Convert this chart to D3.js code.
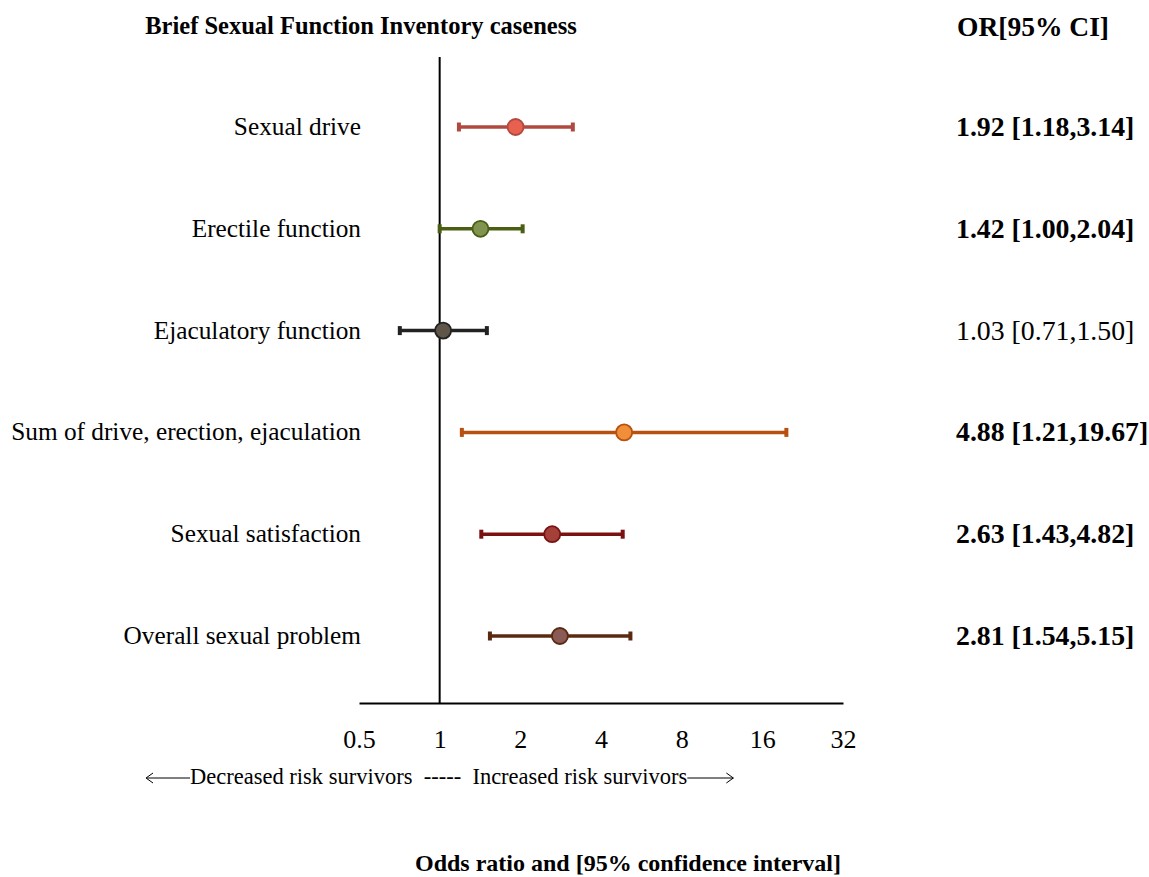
<!DOCTYPE html>
<html>
<head>
<meta charset="utf-8">
<script src="https://cdn.jsdelivr.net/npm/d3@7"></script>
<style>
  body { margin: 0; background: #fff; }
  text { font-family: "Liberation Serif", "Times New Roman", serif; fill: #000; }
</style>
</head>
<body>
<svg id="chart" width="1149" height="877" viewBox="0 0 1149 877"></svg>
<script>
// data
const labels = ["Sexual drive", "Erectile function", "Ejaculatory function",
                "Sum of drive, erection, ejaculation", "Sexual satisfaction", "Overall sexual problem"]
const oddsRatio = [1.92, 1.42, 1.03, 4.88, 2.63, 2.81]
const ciLow = [1.18, 1.00, 0.71, 1.21, 1.43, 1.54]
const ciHigh = [3.14, 2.04, 1.50, 19.67, 4.82, 5.15]
const significant = [true, true, false, true, true, true]
const lineColors = ["#b04a40", "#4a5e14", "#222222", "#b8500f", "#7a1212", "#5a2a10"]
const dotColors = ["#e8604f", "#80934f", "#5f5549", "#f08e3a", "#a3403a", "#8a5a56"]
const tickValues = [0.5, 1, 2, 4, 8, 16, 32]

const rows = labels.map((l, i) => ({
    label: l, or: oddsRatio[i], lo: ciLow[i], hi: ciHigh[i],
    bold: significant[i], line: lineColors[i], dot: dotColors[i]
}))

const svg = d3.select("#chart")

const x = d3.scaleLog().base(2)
    .domain([0.5, 32])
    .range([359, 843])

const y = d3.scalePoint()
    .domain(labels)
    .range([127, 636])

const axisY = 703

// titles
svg.append("text")
    .attr("x", 361).attr("y", 34)
    .attr("text-anchor", "middle")
    .style("font-size", "24.5px").style("font-weight", "bold")
    .text("Brief Sexual Function Inventory caseness")

svg.append("text")
    .attr("x", 957).attr("y", 36)
    .style("font-size", "27.5px").style("font-weight", "bold")
    .text("OR[95% CI]")

// reference line at OR = 1
svg.append("line")
    .attr("x1", x(1)).attr("x2", x(1))
    .attr("y1", 57).attr("y2", axisY)
    .attr("stroke", "#000").attr("stroke-width", 2)

// x axis without ticks
const axis = svg.append("g")
    .attr("transform", `translate(0,${axisY})`)
    .call(d3.axisBottom(x).tickValues(tickValues).tickSize(0).tickPadding(27)
        .tickFormat(d => d))
axis.select(".domain").attr("stroke", "#000").attr("stroke-width", 2)
axis.selectAll("text")
    .style("font-family", '"Liberation Serif", serif')
    .style("font-size", "26px")
    .attr("fill", "#000")

// row labels
svg.append("g").selectAll("text")
    .data(rows)
    .enter()
    .append("text")
    .attr("x", 361)
    .attr("y", d => y(d.label) + 8)
    .attr("text-anchor", "end")
    .style("font-size", "25.3px")
    .text(d => d.label)

// CI lines
const row_g = svg.append("g").selectAll("g")
    .data(rows)
    .enter()
    .append("g")

row_g.append("line")
    .attr("x1", d => x(d.lo)).attr("x2", d => x(d.hi))
    .attr("y1", d => y(d.label)).attr("y2", d => y(d.label))
    .attr("stroke", d => d.line).attr("stroke-width", 3.5)

row_g.selectAll(".cap")
    .data(d => [d.lo, d.hi].map(v => ({ v: v, d: d })))
    .enter()
    .append("rect")
    .attr("x", c => x(c.v) - 2)
    .attr("y", c => y(c.d.label) - 4.5)
    .attr("width", 4)
    .attr("height", 9)
    .attr("fill", c => c.d.line)

row_g.append("circle")
    .attr("cx", d => x(d.or))
    .attr("cy", d => y(d.label))
    .attr("r", 8)
    .attr("fill", d => d.dot)
    .attr("stroke", d => d.line)
    .attr("stroke-width", 1.8)

// OR text column
svg.append("g").selectAll("text")
    .data(rows)
    .enter()
    .append("text")
    .attr("x", 956)
    .attr("y", d => y(d.label) + 9)
    .style("font-size", "27.8px")
    .style("font-weight", d => d.bold ? "bold" : "normal")
    .text(d => `${d.or.toFixed(2)} [${d.lo.toFixed(2)},${d.hi.toFixed(2)}]`)

// direction note with drawn arrows
const noteY = 784
const note = svg.append("text")
    .attr("x", 190).attr("y", noteY)
    .attr("xml:space", "preserve")
    .style("font-size", "22.5px")
    .text("Decreased risk survivors  -----  Increased risk survivors")
const noteEnd = 190 + note.node().getComputedTextLength()

const arrows = svg.append("g").attr("stroke", "#000").attr("stroke-width", 1).attr("fill", "none")
arrows.append("line").attr("x1", 147).attr("x2", 190).attr("y1", noteY - 6).attr("y2", noteY - 6)
arrows.append("path").attr("d", `M153,${noteY - 11}L146,${noteY - 6}L153,${noteY - 1}`)
arrows.append("line").attr("x1", noteEnd).attr("x2", noteEnd + 46).attr("y1", noteY - 6).attr("y2", noteY - 6)
arrows.append("path").attr("d", `M${noteEnd + 39},${noteY - 11}L${noteEnd + 46},${noteY - 6}L${noteEnd + 39},${noteY - 1}`)

svg.append("text")
    .attr("x", 628).attr("y", 871)
    .attr("text-anchor", "middle")
    .style("font-size", "24px").style("font-weight", "bold")
    .text("Odds ratio and [95% confidence interval]")
</script>
</body>
</html>
